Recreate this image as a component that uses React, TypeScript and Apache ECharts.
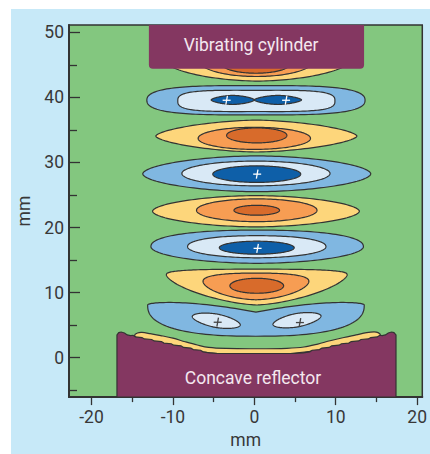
import React, { useEffect, useRef } from "react";
import * as echarts from "echarts";

// ---- axes ----
const xTickLabels = [-20, -10, 0, 10, 20];
const xMinorTicks = [-15, -5, 5, 15];
const yTickLabels = [0, 10, 20, 30, 40, 50];
const yMinorTicks = [-5, 5, 15, 25, 35, 45];
const X_MIN = -22.76;
const X_MAX = 20.63;
const Y_MIN = -6.05;
const Y_MAX = 51.11;

// ---- pressure contours (mm) ----
// [centre x, centre y, half width, half height above, half height below, level]
// level: 1 yellow, 2 orange, 3 dark orange, -1 blue, -2 pale blue, -3 dark blue
const contours = [
  [0.4, 45.8, 11.5, 3.3, 3.3, 1],
  [0.25, 45.6, 7.0, 2.4, 2.4, 2],
  [0.2, 45.2, 4.25, 1.5, 1.5, 3],
  [0.2, 39.55, 13.4, 2.75, 2.75, -1],
  [0.25, 39.45, 9.65, 1.85, 1.85, -2],
  [-2.65, 39.6, 2.65, 0.7, 0.7, -3],
  [2.9, 39.6, 2.9, 0.7, 0.7, -3],
  [0.25, 34.05, 12.35, 2.45, 2.45, 1],
  [0.0, 33.7, 6.9, 1.7, 1.7, 2],
  [0.3, 34.15, 3.7, 1.15, 1.15, 3],
  [0.3, 28.25, 14.0, 2.75, 2.75, -1],
  [0.2, 28.3, 9.1, 1.9, 1.9, -2],
  [0.3, 28.2, 5.4, 1.27, 1.27, -3],
  [0.2, 22.5, 12.7, 2.4, 2.4, 1],
  [0.3, 22.65, 7.4, 1.75, 1.75, 2],
  [0.3, 22.65, 2.8, 0.76, 0.76, 3],
  [0.35, 17.05, 13.05, 2.55, 2.55, -1],
  [0.3, 17.05, 8.5, 1.7, 1.7, -2],
  [0.3, 16.9, 4.6, 1.0, 1.0, -3],
  [0.3, 12.7, 11.1, 0.9, 4.6, 1],
  [0.2, 11.7, 6.5, 1.3, 2.8, 2],
  [0.3, 11.05, 3.3, 1.15, 1.15, 3],
  [0.2, 8.1, 13.3, 0.9, 4.8, -1],
  [-4.67, 5.68, 3.0, 1.03, 1.03, -2],
  [5.24, 5.76, 3.0, 1.03, 1.03, -2],
];
// contour form: [roundness above, roundness below, dip of upper edge (mm), waist pinch, tilt (deg)]
const contourForms = [
  [1.8, 1.8, 0, 0, 0],
  [2, 2, 0, 0, 0],
  [2, 2, 0, 0, 0],
  [2.4, 2.4, 0, 0.18, 0],
  [3, 3, 0, 0.12, 0],
  [1.6, 1.6, 0, 0, 0],
  [1.6, 1.6, 0, 0, 0],
  [1.6, 1.6, 0, 0, 0],
  [2, 2, 0, 0, 0],
  [2, 2, 0, 0, 0],
  [1.8, 1.8, 0, 0, 0],
  [2, 2, 0, 0, 0],
  [2, 2, 0, 0, 0],
  [1.8, 1.8, 0, 0, 0],
  [2, 2, 0, 0, 0],
  [2, 2, 0, 0, 0],
  [2.3, 1.9, 0, 0, 0],
  [2.2, 2, 0, 0, 0],
  [2, 2, 0, 0, 0],
  [3, 1.5, 0, 0, 0],
  [2.5, 1.7, 0, 0, 0],
  [2, 2, 0, 0, 0],
  [2, 2.5, 2.0, 0, 0],
  [1.8, 1.8, 0, 0, 10.4],
  [1.8, 1.8, 0, 0, -10.4],
];

// pressure maxima markers (mm)
const crossesOnDarkBlue = [
  [-3.4, 39.55],
  [3.9, 39.55],
  [0.35, 28.2],
  [0.4, 16.8],
];
const crossesOnPaleBlue = [
  [-4.5, 5.45],
  [5.6, 5.4],
];

// ---- reflector (mm) ----
const reflectorEdges = [-16.87, 17.4];
const reflectorTop = [
  [-16.87, 3.5], [-16.65, 3.85], [-16.35, 3.95], [-15.95, 3.8], [-15.6, 3.5],
  [-15.2, 3.4], [-14.9, 3.45], [-14.6, 3.2], [-13.8, 3.1], [-13.5, 2.88],
  [-12.6, 2.8], [-12.3, 2.58], [-11.4, 2.48], [-11.1, 2.25], [-10.2, 2.15],
  [-9.9, 1.92], [-9.0, 1.82], [-8.7, 1.58], [-7.8, 1.48], [-7.5, 1.25],
  [-6.6, 1.15], [-6.3, 0.9], [-5.5, 0.75], [-4.5, 0.65], [5.0, 0.65],
  [6.0, 0.75], [6.8, 0.9], [7.1, 1.15], [8.0, 1.25], [8.3, 1.48],
  [9.2, 1.58], [9.5, 1.82], [10.4, 1.92], [10.7, 2.15], [11.6, 2.25],
  [11.9, 2.48], [12.8, 2.58], [13.1, 2.8], [14.0, 2.88], [14.3, 3.1],
  [15.1, 3.2], [15.4, 3.45], [15.7, 3.4], [16.1, 3.5], [16.45, 3.8],
  [16.85, 3.95], [17.15, 3.85], [17.4, 3.5],
];
const bandTop = [
  [-14.7, 3.45], [-14.35, 3.8], [-13.8, 3.88], [-12.8, 3.7], [-11.5, 3.4],
  [-10, 3.0], [-8.5, 2.45], [-7, 1.95], [-5.6, 1.58], [-3.5, 1.42],
  [0.3, 1.38], [4, 1.45], [6.1, 1.65], [7.8, 2.1], [9.3, 2.6],
  [11, 3.1], [12.5, 3.5], [13.8, 3.85], [14.7, 3.97], [15.2, 3.85], [15.5, 3.45],
];
const bandBottom = [
  [15.2, 2.9], [10, 1.5], [0.3, 0.3], [-10, 1.5], [-14.3, 2.9],
];

// ---- cylinder (mm): left, right, bottom ----
const cylinderExtent = [-12.95, 13.48, 44.4];

const labels = {
  cylinder: { text: "Vibrating cylinder", at: [-0.4, 48.1] },
  reflector: { text: "Concave reflector", at: [-0.16, -3.05] },
};

const GREEN = "#83c77f";
const LINE = "#333333";
const levelColors: Record<string, string> = {
  "1": "#fdd67b",
  "2": "#f79d53",
  "3": "#d86b2b",
  "-1": "#80b7e1",
  "-2": "#d9e9f6",
  "-3": "#0e5fa8",
};
const FONT = "Roboto";

function outline(api: any, c: number[], f: number[]) {
  const [cx, cy, rx, ryT, ryB] = c;
  const [nT, nB, dip, pinch, tilt] = f;
  const p0 = api.coord([cx, cy]);
  const k = api.size([1, 1]);
  const kx = k[0];
  const ky = k[1];
  const a = (tilt * Math.PI) / 180;
  const ca = Math.cos(a);
  const sa = Math.sin(a);
  const N = 160;
  const pts: number[][] = [];
  for (let i = 0; i < N; i++) {
    const t = (2 * Math.PI * i) / N;
    const co = Math.cos(t);
    const si = Math.sin(t);
    const top = si >= 0;
    const n = top ? nT : nB;
    const u = Math.sign(co) * Math.pow(Math.abs(co), 2 / n);
    const v = Math.sign(si) * Math.pow(Math.abs(si), 2 / n);
    let dy = (top ? ryT : ryB) * v * (1 - pinch * (1 - u * u));
    if (top) dy -= dip * Math.pow(1 - Math.abs(u), 1.6);
    const X = rx * u * kx;
    const Y = -dy * ky;
    pts.push([p0[0] + X * ca - Y * sa, p0[1] + X * sa + Y * ca]);
  }
  return pts;
}

export default function App() {
  const ref = useRef<HTMLDivElement>(null);
  useEffect(() => {
    if (!ref.current) return;
    const chart = echarts.init(ref.current, null, { renderer: "svg" });
    const tickStyle = { color: LINE, width: 1.3 };
    const labelStyle = { color: "#383838", fontSize: 17.5, fontFamily: FONT };
    const allCrosses = [...crossesOnDarkBlue, ...crossesOnPaleBlue];
    const option: any = {
      animation: false,
      backgroundColor: "transparent",
      grid: {
        left: 69,
        top: 25,
        right: 3,
        bottom: 54,
        show: true,
        backgroundColor: GREEN,
        borderColor: LINE,
        borderWidth: 1.5,
      },
      xAxis: [
        {
          type: "value",
          min: X_MIN,
          max: X_MAX,
          position: "bottom",
          splitLine: { show: false },
          axisLine: { show: true, onZero: false, lineStyle: { color: LINE, width: 2 } },
          axisTick: { show: true, customValues: xTickLabels, length: 8, lineStyle: tickStyle },
          axisLabel: { ...labelStyle, customValues: xTickLabels, margin: 11 },
          name: "mm",
          nameLocation: "middle",
          nameGap: 31,
          nameTextStyle: { ...labelStyle },
        },
        {
          type: "value",
          min: X_MIN,
          max: X_MAX,
          position: "bottom",
          splitLine: { show: false },
          axisLine: { show: false, onZero: false },
          axisTick: { show: true, customValues: xMinorTicks, length: 5, lineStyle: tickStyle },
          axisLabel: { show: false },
        },
      ],
      yAxis: [
        {
          type: "value",
          min: Y_MIN,
          max: Y_MAX,
          position: "left",
          splitLine: { show: false },
          axisLine: { show: true, onZero: false, lineStyle: { color: LINE, width: 2 } },
          axisTick: { show: true, inside: true, customValues: yTickLabels, length: 11, lineStyle: tickStyle },
          axisLabel: { ...labelStyle, customValues: yTickLabels, margin: 5 },
          name: "mm",
          nameLocation: "middle",
          nameGap: 33,
          nameTextStyle: { ...labelStyle },
        },
        {
          type: "value",
          min: Y_MIN,
          max: Y_MAX,
          position: "left",
          splitLine: { show: false },
          axisLine: { show: false, onZero: false },
          axisTick: { show: true, inside: true, customValues: yMinorTicks, length: 8, lineStyle: tickStyle },
          axisLabel: { show: false },
        },
      ],
      series: [
        {
          type: "custom",
          name: "contours",
          coordinateSystem: "cartesian2d",
          clip: true,
          z: 2,
          data: contours.map((c) => [c[0], c[1]]),
          renderItem: (params: any, api: any) => {
            const i = params.dataIndex;
            const c = contours[i];
            return {
              type: "polygon",
              z2: i,
              shape: { points: outline(api, c, contourForms[i]) },
              style: { fill: levelColors[String(c[5])], stroke: LINE, lineWidth: 1.2 },
            };
          },
        },
        {
          type: "custom",
          name: "crosses",
          coordinateSystem: "cartesian2d",
          clip: true,
          z: 3,
          data: allCrosses,
          renderItem: (params: any, api: any) => {
            const p = api.coord([api.value(0), api.value(1)]);
            const col = params.dataIndex < crossesOnDarkBlue.length ? "#ffffff" : "#444444";
            const st = { stroke: col, lineWidth: 1.3 };
            return {
              type: "group",
              children: [
                { type: "line", shape: { x1: p[0] - 4, y1: p[1], x2: p[0] + 4, y2: p[1] }, style: st },
                { type: "line", shape: { x1: p[0] + 0.8, y1: p[1] - 4.5, x2: p[0] - 0.8, y2: p[1] + 4.5 }, style: st },
              ],
            };
          },
        },
        {
          type: "custom",
          name: "reflector",
          coordinateSystem: "cartesian2d",
          clip: true,
          z: 4,
          data: [[0, 0]],
          renderItem: (params: any, api: any) => {
            const band = [...bandTop, ...bandBottom].map((p) => api.coord(p));
            const body = [
              [reflectorEdges[0], Y_MIN],
              ...reflectorTop,
              [reflectorEdges[1], Y_MIN],
            ].map((p) => api.coord(p));
            const tp = api.coord(labels.reflector.at);
            return {
              type: "group",
              children: [
                {
                  type: "polygon",
                  shape: { points: band, smooth: 0.35 },
                  style: { fill: levelColors["1"], stroke: LINE, lineWidth: 1.2 },
                },
                {
                  type: "polygon",
                  shape: { points: body },
                  style: { fill: "#843761", stroke: LINE, lineWidth: 1.2 },
                },
                {
                  type: "text",
                  x: tp[0],
                  y: tp[1],
                  style: {
                    text: labels.reflector.text,
                    fill: "#f4e8ef",
                    fontSize: 17.5,
                    fontFamily: FONT,
                    align: "center",
                    verticalAlign: "middle",
                  },
                },
              ],
            };
          },
        },
        {
          type: "custom",
          name: "cylinder",
          coordinateSystem: "cartesian2d",
          clip: true,
          z: 5,
          data: [[0, 0]],
          renderItem: (params: any, api: any) => {
            const a = api.coord([cylinderExtent[0], Y_MAX + 2]);
            const b = api.coord([cylinderExtent[1], cylinderExtent[2]]);
            const tp = api.coord(labels.cylinder.at);
            return {
              type: "group",
              children: [
                {
                  type: "rect",
                  shape: { x: a[0], y: a[1], width: b[0] - a[0], height: b[1] - a[1], r: [0, 0, 4, 4] },
                  style: { fill: "#843761" },
                },
                {
                  type: "text",
                  x: tp[0],
                  y: tp[1],
                  style: {
                    text: labels.cylinder.text,
                    fill: "#f4e8ef",
                    fontSize: 17.5,
                    fontFamily: FONT,
                    align: "center",
                    verticalAlign: "middle",
                  },
                },
              ],
            };
          },
        },
      ],
    };
    chart.setOption(option);
    return () => chart.dispose();
  }, []);

  return (
    <div style={{ position: "fixed", left: 0, top: 0, width: 430, height: 454, background: "#ffffff", overflow: "hidden" }}>
      <div style={{ position: "absolute", left: 11, top: 9, width: 419, height: 445, background: "#c7e9f8" }} />
      <div ref={ref} style={{ position: "absolute", left: 0, top: 0, width: 430, height: 454 }} />
    </div>
  );
}
